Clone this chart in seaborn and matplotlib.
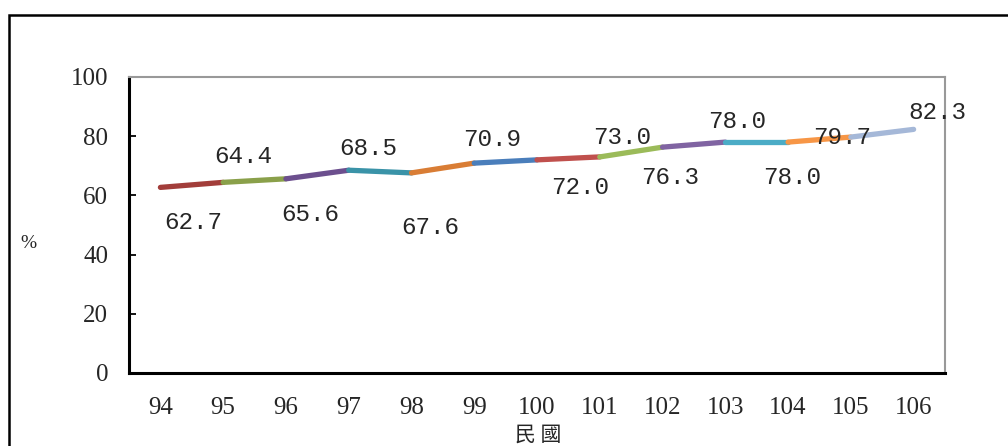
import matplotlib
matplotlib.use("Agg")
import matplotlib.pyplot as plt
import seaborn as sns
import pandas as pd
import numpy as np
from matplotlib.patches import Rectangle

# 民國 years and rates (%)
years = ["94", "95", "96", "97", "98", "99", "100", "101", "102", "103", "104", "105", "106"]
rates = [62.7, 64.4, 65.6, 68.5, 67.6, 70.9, 72.0, 73.0, 76.3, 78.0, 78.0, 79.7, 82.3]
y_ticks = [0, 20, 40, 60, 80, 100]

seg_colors = ["#A23D3A", "#8AA04A", "#6C4F8E", "#3A93A8", "#D97D35", "#4A7EBB",
              "#C0504D", "#9BBB59", "#8064A2", "#4BACC6", "#F79646", "#A5B8D8"]
# label offsets (points) relative to each data point, hand-placed like the original
label_off = [(23.5, -25.5), (14.3, 18.3), (17.3, -26), (13.9, 15.3), (13.3, -39),
             (12.7, 17.3), (31, -20), (16, 14.3), (5.3, -22), (8.4, 14.5),
             (2.7, -25.8), (-6.5, 0), (16.8, 12.5)]

sns.set_style("white")
plt.rcParams['font.family'] = ['Liberation Serif', 'Noto Sans CJK TC']

# one two-point segment per year interval, so each gets its own colour
rows = []
for i in range(len(rates) - 1):
    rows.append({"pos": i, "val": rates[i], "seg": i})
    rows.append({"pos": i + 1, "val": rates[i + 1], "seg": i})
df = pd.DataFrame(rows)

fig = plt.figure(figsize=(10.08, 4.46), dpi=100)
ax = fig.add_axes([0.128, 0.1637, 0.8095, 0.6637])

sns.lineplot(data=df, x="pos", y="val", hue="seg", palette=seg_colors,
             linewidth=3.8, legend=False, ax=ax, solid_capstyle="round")

for i, v in enumerate(rates):
    ax.annotate(f"{v:.1f}", (i, v), xytext=label_off[i], textcoords="offset points",
                ha="center", va="center", fontsize=17.5, family="Liberation Mono")

ax.set_xlim(-0.5, len(years) - 0.5)
ax.set_ylim(0, 100)
ax.set_xticks(range(len(years)))
ax.set_xticklabels(years, fontsize=18)
ax.set_xticks(np.arange(0.5, len(years) - 1, 1), minor=True)
ax.tick_params(axis="x", which="major", length=0, pad=17)
ax.tick_params(axis="x", which="minor", direction="in", length=5, width=1.3, color="black")
ax.set_yticks(y_ticks)
ax.set_yticklabels([str(t) for t in y_ticks], fontsize=18)
ax.tick_params(axis="y", direction="in", length=5, width=1.3, color="black", pad=15, left=True)

ax.spines["left"].set_color("black")
ax.spines["left"].set_linewidth(2.2)
ax.spines["bottom"].set_color("black")
ax.spines["bottom"].set_linewidth(2.2)
ax.spines["top"].set_color("#999999")
ax.spines["top"].set_linewidth(1.5)
ax.spines["right"].set_color("#999999")
ax.spines["right"].set_linewidth(1.5)

ax.set_xlabel("")
ax.set_ylabel("")
fig.text(0.028, 0.455, "%", fontsize=14, ha="center", va="center")
fig.text(0.534, 0.025, "民 國", fontsize=15, ha="center", va="center",
         family=["Noto Sans CJK TC", "DejaVu Sans"])

# outer chart frame, running off the right and bottom edges
fig.patches.append(Rectangle((0.009, -0.1), 1.2, 1.066, transform=fig.transFigure,
                             fill=False, edgecolor="black", linewidth=1.8))

fig.savefig("out.png", dpi=100)
